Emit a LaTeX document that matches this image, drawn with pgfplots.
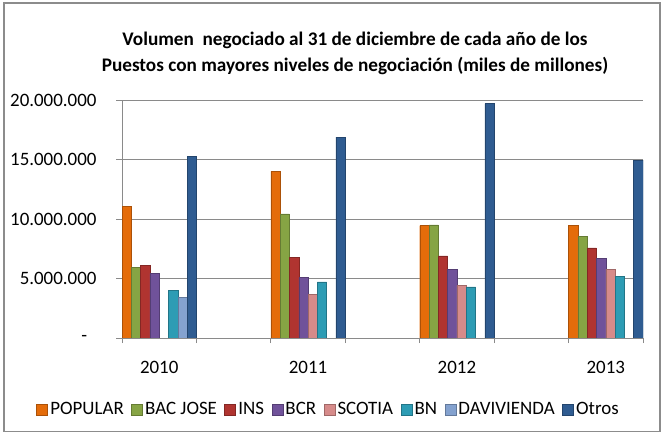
\documentclass[border=0pt]{standalone}
\usepackage{fontspec}
\setmainfont{Carlito}
\usepackage{pgfplots}
\pgfplotsset{compat=1.18}
\definecolor{popular}{HTML}{E46C0A}
\definecolor{bac}{HTML}{86A444}
\definecolor{ins}{HTML}{B03430}
\definecolor{bcr}{HTML}{70529A}
\definecolor{scotia}{HTML}{D68B8A}
\definecolor{bn}{HTML}{2D9CB4}
\definecolor{davi}{HTML}{84A2CF}
\definecolor{otros}{HTML}{2F5C91}
\definecolor{gridc}{HTML}{8A8A8A}
\definecolor{framec}{HTML}{8C8C8C}

\begin{document}
\begin{tikzpicture}
\useasboundingbox (0,0) rectangle (663bp,432bp);
\draw[framec, line width=1.4bp] (4bp,0.7bp) rectangle (660bp,429bp);
\node[font=\bfseries\fontsize{19.3}{22}\selectfont, align=center] at (355bp,379bp)
  {Volumen\ \ negociado al 31 de diciembre de cada año de los\\[4bp]
   Puestos con mayores niveles de negociación (miles de millones)};
\begin{axis}[
    at={(122bp,94bp)}, anchor=south west,
    width=521bp, height=238bp, scale only axis,
    xmin=-0.5, xmax=6.5,
    ymin=0, ymax=20000000,
    axis x line=bottom, axis y line=left,
    axis line style={-, draw=gridc, line width=0.9bp},
    ybar, bar width=0.125,
    xtick={0,2,4,6},
    xticklabels={2010,2011,2012,2013},
    major x tick style={draw=none},
    minor xtick={-0.5,0.5,...,6.5},
    minor x tick style={draw=gridc, line width=0.9bp},
    minor tick length=5bp,
    ytick={0,5000000,10000000,15000000,20000000},
    yticklabels={\makebox[15bp][l]{-}, 5.000.000, 10.000.000, 15.000.000, 20.000.000},
    y tick style={draw=gridc, line width=0.9bp},
    major tick length=6bp,
    tick align=outside,
    ymajorgrids,
    grid style={draw=gridc, line width=0.9bp},
    scaled y ticks=false,
    tick label style={font=\fontsize{19}{22}\selectfont},
    yticklabel style={xshift=-16bp},
    xticklabel style={yshift=-14bp},
    legend columns=8,
    legend style={draw=none, fill=none, at={(0.397,-0.3)}, anchor=center,
        font=\fontsize{19}{22}\selectfont,
        /tikz/every even column/.append style={column sep=5bp},
        /tikz/every odd column/.append style={column sep=0bp},
        /tikz/every node/.append style={inner xsep=2.5bp}},
    legend image code/.code={\fill[#1] (0bp,-5.5bp) rectangle (11bp,5.5bp);},
    every axis plot/.append style={line width=0.4bp},
]
\addplot[fill=popular, draw=popular!75!black, bar shift=-0.4375] coordinates {(0,11080000) (2,14000000) (4,9450000) (6,9450000)};
\addplot[fill=bac, draw=bac!75!black, bar shift=-0.3125] coordinates {(0,5940000) (2,10440000) (4,9510000) (6,8550000)};
\addplot[fill=ins, draw=ins!75!black, bar shift=-0.1875] coordinates {(0,6110000) (2,6790000) (4,6900000) (6,7580000)};
\addplot[fill=bcr, draw=bcr!75!black, bar shift=-0.0625] coordinates {(0,5440000) (2,5080000) (4,5750000) (6,6680000)};
\addplot[fill=scotia, draw=scotia!75!black, bar shift=0.0625] coordinates {(2,3670000) (4,4430000) (6,5780000)};
\addplot[fill=bn, draw=bn!75!black, bar shift=0.1875] coordinates {(0,4010000) (2,4710000) (4,4290000) (6,5160000)};
\addplot[fill=davi, draw=davi!75!black, bar shift=0.3125] coordinates {(0,3420000)};
\addplot[fill=otros, draw=otros!75!black, bar shift=0.4375] coordinates {(0,15240000) (2,16890000) (4,19700000) (6,14950000)};
\legend{POPULAR, BAC JOSE, INS, BCR, SCOTIA, BN, DAVIVIENDA, Otros}
\end{axis}
\end{tikzpicture}
\end{document}
